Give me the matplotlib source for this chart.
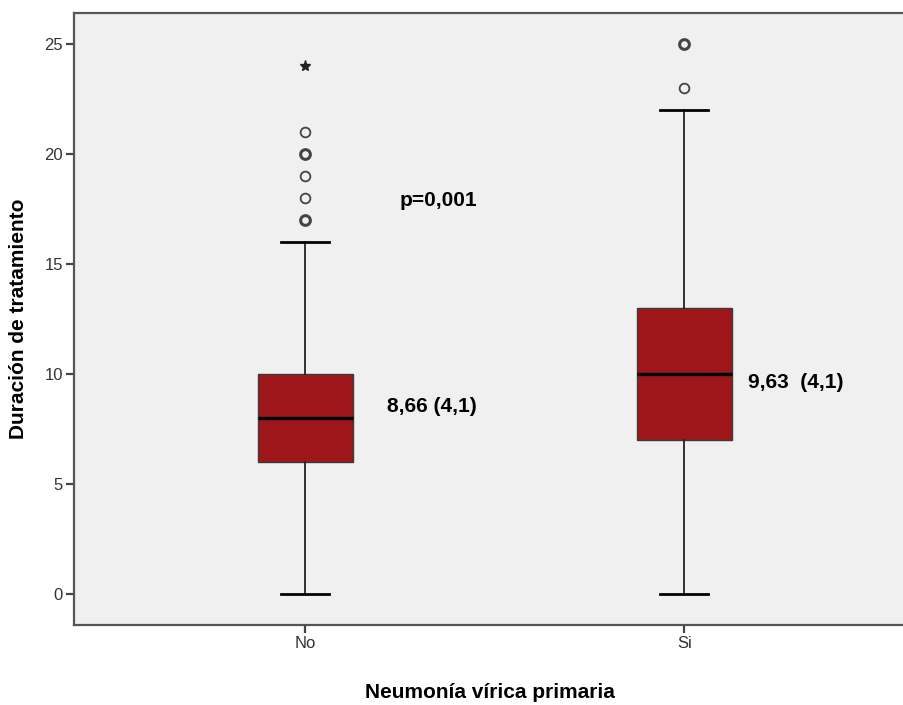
import numpy as np
import matplotlib.pyplot as plt
from collections import Counter

plt.rcParams['font.family'] = ['Liberation Sans', 'DejaVu Sans']

# Box summaries for treatment duration by primary viral pneumonia
groups = ["No", "Si"]
q1 = [6, 7]
medians = [8, 10]
q3 = [10, 13]
whisker_low = [0, 0]
whisker_high = [16, 22]
outliers = [[17, 17, 18, 19, 20, 20, 21], [23, 25, 25]]
extremes = [[24], []]
means_sd = ["8,66 (4,1)", "9,63  (4,1)"]
p_text = "p=0,001"

box_color = "#9e1619"
positions = np.arange(1, len(groups) + 1)

fig = plt.figure(figsize=(9.04, 7.05), dpi=100)
ax = fig.add_axes([74 / 904, 80 / 705, 1 - 74 / 904, 612 / 705])
ax.set_facecolor("#f0f0f0")

stats = []
for i, g in enumerate(groups):
    stats.append(dict(label=g, med=medians[i], q1=q1[i], q3=q3[i],
                      whislo=whisker_low[i], whishi=whisker_high[i], fliers=[]))

ax.bxp(stats, positions=positions, widths=0.25, patch_artist=True,
       showfliers=False,
       boxprops=dict(facecolor=box_color, edgecolor="#3a3a3a", linewidth=1.0),
       medianprops=dict(color="black", linewidth=2.4),
       whiskerprops=dict(color="#222222", linewidth=1.3),
       capprops=dict(color="black", linewidth=2.0),
       capwidths=0.125)

# outliers: repeated values get a heavier ring
for pos, vals in zip(positions, outliers):
    for v, n in Counter(vals).items():
        ax.plot(pos, v, "o", ms=7, mfc="none", mec="#444444", mew=1.3 + 0.9 * (n - 1))
for pos, vals in zip(positions, extremes):
    for v in vals:
        ax.plot(pos, v, "*", ms=8, color="#222222")

label_size = 15
ax.text(1.25, 17.9, p_text, fontsize=label_size, fontweight="bold", va="center")
ax.text(1.215, 8.5, means_sd[0], fontsize=label_size, fontweight="bold", va="center")
ax.text(2.168, 9.6, means_sd[1], fontsize=label_size, fontweight="bold", va="center")

ax.set_xlim(0.39, 2.58)
ax.set_ylim(-1.41, 26.41)
ax.set_yticks([0, 5, 10, 15, 20, 25])
ax.set_xticks(positions)
ax.set_xticklabels(groups)
ax.tick_params(axis="both", direction="out", length=6, width=1.6,
               color="#444444", labelsize=12, labelcolor="#333333", pad=2)

for side in ["left", "bottom", "top"]:
    ax.spines[side].set_color("#555555")
    ax.spines[side].set_linewidth(1.6)
ax.spines["right"].set_visible(False)

ax.set_ylabel("Duración de tratamiento", fontsize=label_size, fontweight="bold", labelpad=12)
fig.text(490 / 904, 1 - 692 / 705, "Neumonía vírica primaria", fontsize=label_size,
         fontweight="bold", ha="center", va="center")

fig.savefig("out.png", dpi=100)
